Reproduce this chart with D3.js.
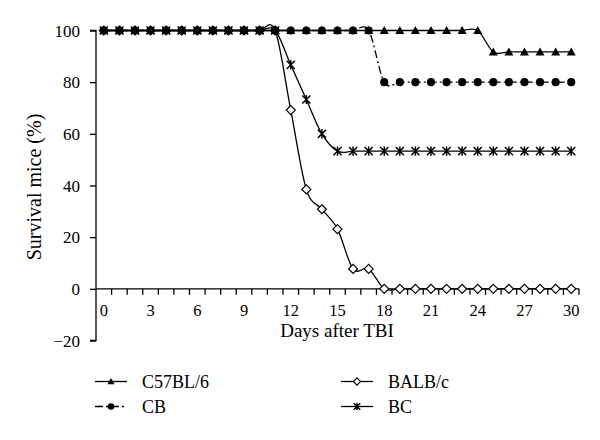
<!DOCTYPE html>
<html>
<head>
<meta charset="utf-8">
<script src="https://cdn.jsdelivr.net/npm/d3@7"></script>
<style>
    body { margin: 0; background: #fff; }
    svg text { font-family: "Liberation Serif", "DejaVu Serif", serif; fill: #000; }
</style>
</head>
<body>
<script>
(function(){

    //categories (days after TBI)
    var days = [0, 1, 2, 3, 4, 5, 6, 7, 8, 9, 10, 11, 12, 13, 14, 15, 16, 17, 18, 19, 20, 21, 22, 23, 24, 25, 26, 27, 28, 29, 30];
    var dayLabels = [0, 3, 6, 9, 12, 15, 18, 21, 24, 27, 30];
    var yTicks = [-20, 0, 20, 40, 60, 80, 100];

    //survival values (%) per strain
    var c57 = [100, 100, 100, 100, 100, 100, 100, 100, 100, 100, 100, 100, 100, 100, 100, 100, 100, 100, 100, 100, 100, 100, 100, 100, 100, 91.7, 91.7, 91.7, 91.7, 91.7, 91.7];
    var balb = [100, 100, 100, 100, 100, 100, 100, 100, 100, 100, 100, 100, 69.2, 38.5, 30.8, 23.1, 7.7, 7.7, 0, 0, 0, 0, 0, 0, 0, 0, 0, 0, 0, 0, 0];
    var cb = [100, 100, 100, 100, 100, 100, 100, 100, 100, 100, 100, 100, 100, 100, 100, 100, 100, 100, 80, 80, 80, 80, 80, 80, 80, 80, 80, 80, 80, 80, 80];
    var bc = [100, 100, 100, 100, 100, 100, 100, 100, 100, 100, 100, 100, 86.7, 73.3, 60, 53.3, 53.3, 53.3, 53.3, 53.3, 53.3, 53.3, 53.3, 53.3, 53.3, 53.3, 53.3, 53.3, 53.3, 53.3, 53.3];

    window.onload = setChart();

    function setChart(){
        var width = 600, height = 440;

        var svg = d3.select("body")
            .append("svg")
            .attr("width", width)
            .attr("height", height);

        //category axis, points sit between tick marks
        var x = d3.scaleBand()
            .domain(days)
            .range([96, 579])
            .padding(0);
        var xc = function(d){ return x(d) + x.bandwidth() / 2; };

        var y = d3.scaleLinear()
            .domain([-20, 100])
            .range([340.5, 30.5]);

        //y axis
        var yAxis = d3.axisLeft(y)
            .tickValues(yTicks)
            .tickSize(6)
            .tickPadding(10)
            .tickFormat(function(d){ return d < 0 ? "\u2212" + Math.abs(d) : d; });

        var yg = svg.append("g")
            .attr("transform", "translate(96,0)")
            .call(yAxis);
        yg.select(".domain").attr("stroke", "#000").attr("stroke-width", 1.3)
            .attr("d", "M-6," + y(-20) + "H0V" + y(100) + "H-6");
        yg.selectAll(".tick line").attr("stroke", "#000").attr("stroke-width", 1.3);
        yg.selectAll(".tick text").style("font-size", "17px").attr("dy", "0.34em");

        //x axis along y = 0
        var xg = svg.append("g")
            .attr("transform", "translate(0," + y(0) + ")");
        xg.append("line")
            .attr("x1", 96).attr("x2", 579)
            .attr("stroke", "#000").attr("stroke-width", 1.3);
        xg.selectAll(".xtick")
            .data(days)
            .enter()
            .append("line")
            .attr("class", "xtick")
            .attr("x1", function(d){ return x(d) + x.bandwidth(); })
            .attr("x2", function(d){ return x(d) + x.bandwidth(); })
            .attr("y1", 0).attr("y2", 6)
            .attr("stroke", "#000").attr("stroke-width", 1.3);
        xg.selectAll(".xlabel")
            .data(dayLabels)
            .enter()
            .append("text")
            .attr("class", "xlabel")
            .attr("x", xc)
            .attr("y", 27)
            .attr("text-anchor", "middle")
            .style("font-size", "16.5px")
            .text(function(d){ return d; });

        //axis titles
        svg.append("text")
            .attr("x", 337)
            .attr("y", 337)
            .attr("text-anchor", "middle")
            .style("font-size", "19px")
            .text("Days after TBI");

        svg.append("text")
            .attr("transform", "translate(41,187) rotate(-90)")
            .attr("text-anchor", "middle")
            .style("font-size", "20px")
            .text("Survival mice (%)");

        var line = d3.line()
            .x(function(d, i){ return xc(days[i]); })
            .y(function(d){ return y(d); })
            .curve(d3.curveCardinal.tension(0));

        var styles = {
            "C57BL/6": { data: c57, dash: null, marker: "triangle" },
            "BALB/c": { data: balb, dash: null, marker: "diamond" },
            "CB": { data: cb, dash: "8,3,2,3", marker: "circle" },
            "BC": { data: bc, dash: null, marker: "star" }
        };

        //draw order: BALB/c under the rest
        var order = ["BALB/c", "C57BL/6", "CB", "BC"];
        order.forEach(function(name){
            var s = styles[name];
            var g = svg.append("g").attr("class", "series");
            g.append("path")
                .attr("d", line(s.data))
                .attr("fill", "none")
                .attr("stroke", "#000")
                .attr("stroke-width", 1.3)
                .attr("stroke-dasharray", s.dash);
            s.data.forEach(function(d, i){
                drawMarker(g, s.marker, xc(days[i]), y(d), 1);
            });
        });

        //legend
        var legendPos = [
            { name: "C57BL/6", x: 95, y: 381.5 },
            { name: "CB", x: 95, y: 406.5 },
            { name: "BALB/c", x: 341, y: 381.5 },
            { name: "BC", x: 341, y: 406.5 }
        ];
        legendPos.forEach(function(l){
            var s = styles[l.name];
            var lg = svg.append("g").attr("class", "legend");
            lg.append("line")
                .attr("x1", l.x).attr("x2", l.x + 32)
                .attr("y1", l.y).attr("y2", l.y)
                .attr("stroke", "#000")
                .attr("stroke-width", 1.3)
                .attr("stroke-dasharray", s.dash);
            drawMarker(lg, s.marker, l.x + 16, l.y, 0.8);
            lg.append("text")
                .attr("x", l.x + 47)
                .attr("y", l.y + 6.5)
                .style("font-size", "18px")
                .text(l.name);
        });
    }

    //marker shapes
    function drawMarker(sel, type, cx, cy, k){
        var r = 4.5 * k;
        if (type == "triangle"){
            sel.append("path")
                .attr("d", "M" + cx + "," + (cy - r) + "L" + (cx + r) + "," + (cy + r * 0.78) + "L" + (cx - r) + "," + (cy + r * 0.78) + "Z")
                .attr("fill", "#000");
        } else if (type == "circle"){
            sel.append("circle")
                .attr("cx", cx).attr("cy", cy).attr("r", r * 0.9)
                .attr("fill", "#000");
        } else if (type == "diamond"){
            sel.append("path")
                .attr("d", "M" + cx + "," + (cy - r) + "L" + (cx + r) + "," + cy + "L" + cx + "," + (cy + r) + "L" + (cx - r) + "," + cy + "Z")
                .attr("fill", "#fff")
                .attr("stroke", "#000")
                .attr("stroke-width", 1.2);
        } else if (type == "star"){
            var a = r * 0.9;
            sel.append("path")
                .attr("d", "M" + (cx - a) + "," + (cy - a) + "L" + (cx + a) + "," + (cy + a) +
                    "M" + (cx + a) + "," + (cy - a) + "L" + (cx - a) + "," + (cy + a) +
                    "M" + cx + "," + (cy - a - 0.5) + "L" + cx + "," + (cy + a + 0.5))
                .attr("stroke", "#000")
                .attr("stroke-width", 1.5)
                .attr("fill", "none");
        }
    }
})();
</script>
</body>
</html>
